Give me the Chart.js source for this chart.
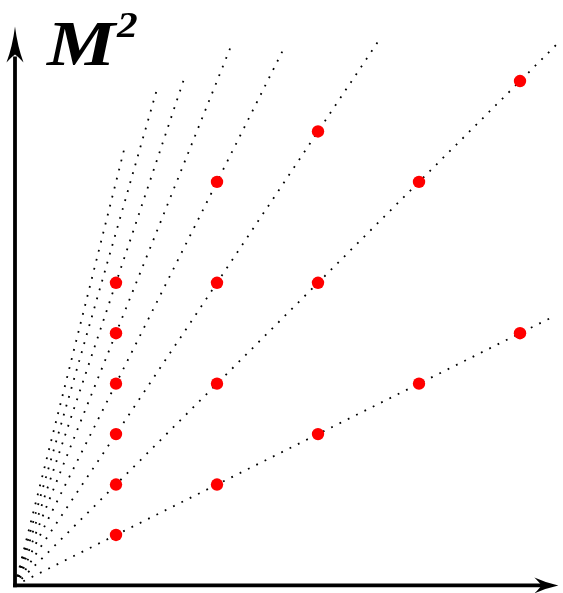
<!DOCTYPE html>
<html>
<head>
<meta charset="utf-8">
<script src="https://cdn.jsdelivr.net/npm/chart.js@4/dist/chart.umd.min.js"></script>
<style>
  html, body { margin: 0; padding: 0; background: #ffffff; }
  #wrap { position: relative; width: 563px; height: 593px; }
</style>
</head>
<body>
<div id="wrap"><canvas id="c" width="563" height="593"></canvas></div>
<script>
// ---- data ----
const trajectorySlopes = [1, 2, 3, 4, 5, 6, 7, 8];
const trajectoryEndX   = [5.32, 5.38, 3.61, 2.66, 2.14, 1.69, 1.40, 1.08];
const trajectoryEndY   = [5.32, 10.76, 10.83, 10.64, 10.70, 10.14, 9.80, 8.64];
const stateX = [1, 2, 3, 4, 5,  1, 2, 3, 4, 5,   1, 2, 3,  1, 2,  1,  1];
const stateY = [1, 2, 3, 4, 5,  2, 4, 6, 8, 10,  3, 6, 9,  4, 8,  5,  6];
const axisLabel = "M";
const axisLabelSup = "2";
const xAxisMax = 5.4;
const yAxisMax = 11.5;
const xArrowTip = 5.38;
const yArrowTip = 11.08;

const datasets = [];
datasets.push({
  label: 'states',
  data: stateX.map((x, i) => ({ x: x, y: stateY[i] })),
  showLine: false,
  pointRadius: 6.2,
  pointHoverRadius: 6.2,
  pointBackgroundColor: '#ff0000',
  pointBorderColor: '#ff0000',
  pointBorderWidth: 0
});
trajectorySlopes.forEach((n, i) => {
  datasets.push({
    label: 'n=' + n,
    data: [{ x: 0, y: 0 }, { x: trajectoryEndX[i], y: trajectoryEndY[i] }],
    showLine: true,
    pointRadius: 0,
    borderColor: '#000000',
    borderWidth: 1.8,
    borderDash: [1.8, 7.5],
    fill: false
  });
});

const axesPlugin = {
  id: 'arrowAxes',
  afterDraw(chart) {
    const ctx = chart.ctx;
    const xs = chart.scales.x, ys = chart.scales.y;
    const ox = xs.getPixelForValue(0), oy = ys.getPixelForValue(0);
    const tx = xs.getPixelForValue(xArrowTip);
    const ty = ys.getPixelForValue(yArrowTip);
    ctx.save();
    ctx.strokeStyle = '#000';
    ctx.fillStyle = '#000';
    ctx.lineWidth = 3.8;
    ctx.lineCap = 'butt';
    // y axis
    ctx.beginPath();
    ctx.moveTo(ox, oy + 1.9);
    ctx.lineTo(ox, ty + 30);
    ctx.stroke();
    // x axis
    ctx.beginPath();
    ctx.moveTo(ox - 1.9, oy);
    ctx.lineTo(tx - 15, oy);
    ctx.stroke();
    // y arrow head
    ctx.beginPath();
    ctx.moveTo(ox, ty);
    ctx.quadraticCurveTo(ox - 2.5, ty + 20, ox - 8.5, ty + 36);
    ctx.quadraticCurveTo(ox - 2, ty + 29, ox, ty + 28);
    ctx.quadraticCurveTo(ox + 2, ty + 29, ox + 8.5, ty + 36);
    ctx.quadraticCurveTo(ox + 2.5, ty + 20, ox, ty);
    ctx.closePath();
    ctx.fill();
    // x arrow head
    ctx.beginPath();
    ctx.moveTo(tx, oy);
    ctx.quadraticCurveTo(tx - 12, oy - 2.5, tx - 24, oy - 8);
    ctx.quadraticCurveTo(tx - 18, oy - 2, tx - 17, oy);
    ctx.quadraticCurveTo(tx - 18, oy + 2, tx - 24, oy + 8);
    ctx.quadraticCurveTo(tx - 12, oy + 2.5, tx, oy);
    ctx.closePath();
    ctx.fill();
    // label
    ctx.textBaseline = 'alphabetic';
    ctx.textAlign = 'left';
    ctx.save();
    ctx.translate(47, 65);
    ctx.scale(1.2, 1);
    ctx.font = 'italic bold 64px "Liberation Serif", "DejaVu Serif", serif';
    ctx.fillText(axisLabel, 0, 0);
    ctx.restore();
    ctx.save();
    ctx.translate(117, 37);
    ctx.scale(1.15, 1);
    ctx.font = 'italic bold 36px "Liberation Serif", "DejaVu Serif", serif';
    ctx.fillText(axisLabelSup, 0, 0);
    ctx.restore();
    ctx.restore();
  }
};

new Chart(document.getElementById('c'), {
  type: 'scatter',
  data: { datasets: datasets },
  options: {
    responsive: false,
    animation: false,
    events: [],
    layout: { autoPadding: false, padding: { left: 15, right: 2.6, top: 5.4, bottom: 7.6 } },
    scales: {
      x: { type: 'linear', min: 0, max: xAxisMax, display: false },
      y: { type: 'linear', min: 0, max: yAxisMax, display: false }
    },
    plugins: {
      legend: { display: false },
      tooltip: { enabled: false },
      title: { display: false }
    }
  },
  plugins: [axesPlugin]
});
</script>
</body>
</html>
